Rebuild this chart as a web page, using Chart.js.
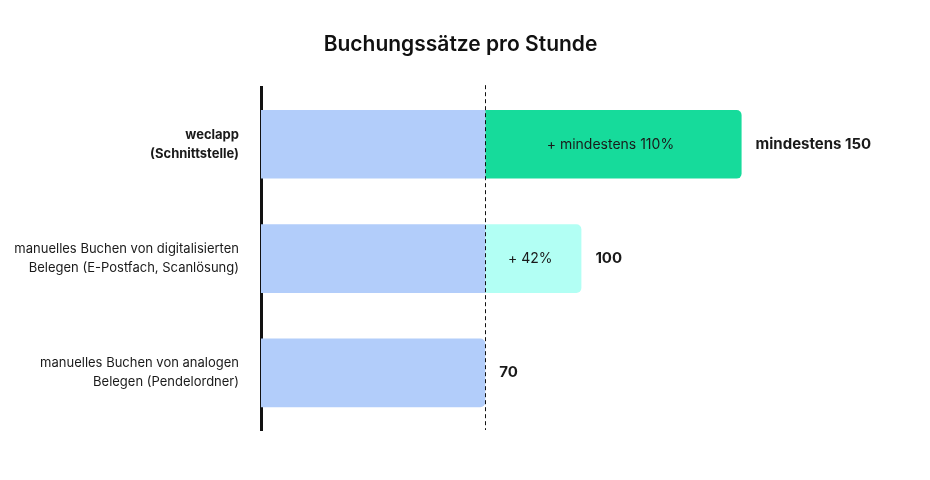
<!DOCTYPE html>
<html lang="de">
<head>
<meta charset="utf-8">
<title>Buchungssätze pro Stunde</title>
<script src="https://cdn.jsdelivr.net/npm/chart.js@4.4.1/dist/chart.umd.min.js"></script>
<style>
  html, body { margin: 0; padding: 0; background: #fff; }
  #wrap { width: 930px; height: 480px; position: relative; }
</style>
</head>
<body>
<div id="wrap"><canvas id="chart"></canvas></div>
<script>
// data
const categories = [
  ["weclapp", "(Schnittstelle)"],
  ["manuelles Buchen von digitalisierten", "Belegen (E-Postfach, Scanlösung)"],
  ["manuelles Buchen von analogen", "Belegen (Pendelordner)"],
];
const baseValues = [70, 70, 70];
const extraValues = [80, 30, 0];
const extraLabels = ["+ mindestens 110%", "+ 42%", ""];
const totalLabels = ["mindestens 150", "100", "70"];
const referenceValue = 70;

const FONT = "Inter, 'Open Sans', sans-serif";
const TEXT = "#1a1a1a";

// dashed reference line at the base value
const refLine = {
  id: "refLine",
  afterDatasetsDraw(chart) {
    const { ctx, chartArea, scales } = chart;
    const x = Math.round(scales.x.getPixelForValue(referenceValue)) + 0.5;
    ctx.save();
    ctx.strokeStyle = "#111";
    ctx.lineWidth = 1;
    ctx.setLineDash([4, 3]);
    ctx.beginPath();
    ctx.moveTo(x, chartArea.top - 2);
    ctx.lineTo(x, chartArea.bottom);
    ctx.stroke();
    ctx.restore();
  },
};

// text inside the extra segment and total to the right of each bar
const barLabels = {
  id: "barLabels",
  afterDatasetsDraw(chart) {
    const { ctx, scales } = chart;
    const extraMeta = chart.getDatasetMeta(1);
    ctx.save();
    ctx.fillStyle = TEXT;
    ctx.textBaseline = "middle";
    extraMeta.data.forEach((bar, i) => {
      if (extraLabels[i]) {
        ctx.font = "400 14px " + FONT;
        ctx.textAlign = "center";
        ctx.fillText(extraLabels[i], (bar.base + bar.x) / 2 - 3, bar.y);
      }
      const end = scales.x.getPixelForValue(baseValues[i] + extraValues[i]);
      ctx.font = "700 15px " + FONT;
      ctx.textAlign = "left";
      ctx.fillText(totalLabels[i], end + 14, bar.y);
    });
    ctx.restore();
  },
};

new Chart(document.getElementById("chart"), {
  type: "bar",
  data: {
    labels: categories,
    datasets: [
      {
        label: "Basis",
        data: baseValues,
        backgroundColor: "#b2cdfa",
        borderRadius: (c) =>
          extraValues[c.dataIndex] > 0
            ? 0
            : { topLeft: 0, bottomLeft: 0, topRight: 5, bottomRight: 5 },
        borderSkipped: false,
        barPercentage: 0.6,
        categoryPercentage: 1,
      },
      {
        label: "Zuwachs",
        data: extraValues,
        backgroundColor: ["#16db9b", "#b2fff4", "#b2fff4"],
        borderRadius: { topLeft: 0, bottomLeft: 0, topRight: 5, bottomRight: 5 },
        borderSkipped: false,
        barPercentage: 0.6,
        categoryPercentage: 1,
      },
    ],
  },
  options: {
    indexAxis: "y",
    responsive: true,
    maintainAspectRatio: false,
    animation: false,
    layout: { padding: { top: 0, right: 9, bottom: 50, left: 0 } },
    scales: {
      x: {
        stacked: true,
        display: false,
        min: 0,
        max: 206,
      },
      y: {
        stacked: true,
        z: 1,
        grid: { display: false },
        border: { display: true, color: "#111", width: 3 },
        ticks: {
          color: TEXT,
          padding: 14,
          font: (c) => ({
            family: FONT,
            size: 13,
            weight: c.index === 0 ? "700" : "400",
            lineHeight: 1.45,
          }),
        },
        afterFit(axis) {
          axis.width = 261;
        },
      },
    },
    plugins: {
      legend: { display: false },
      tooltip: { enabled: false },
      title: {
        display: true,
        text: "Buchungssätze pro Stunde",
        color: "#111",
        font: { family: FONT, size: 21, weight: "600" },
        padding: { top: 32, bottom: 30 },
      },
    },
  },
  plugins: [refLine, barLabels],
});
</script>
</body>
</html>
